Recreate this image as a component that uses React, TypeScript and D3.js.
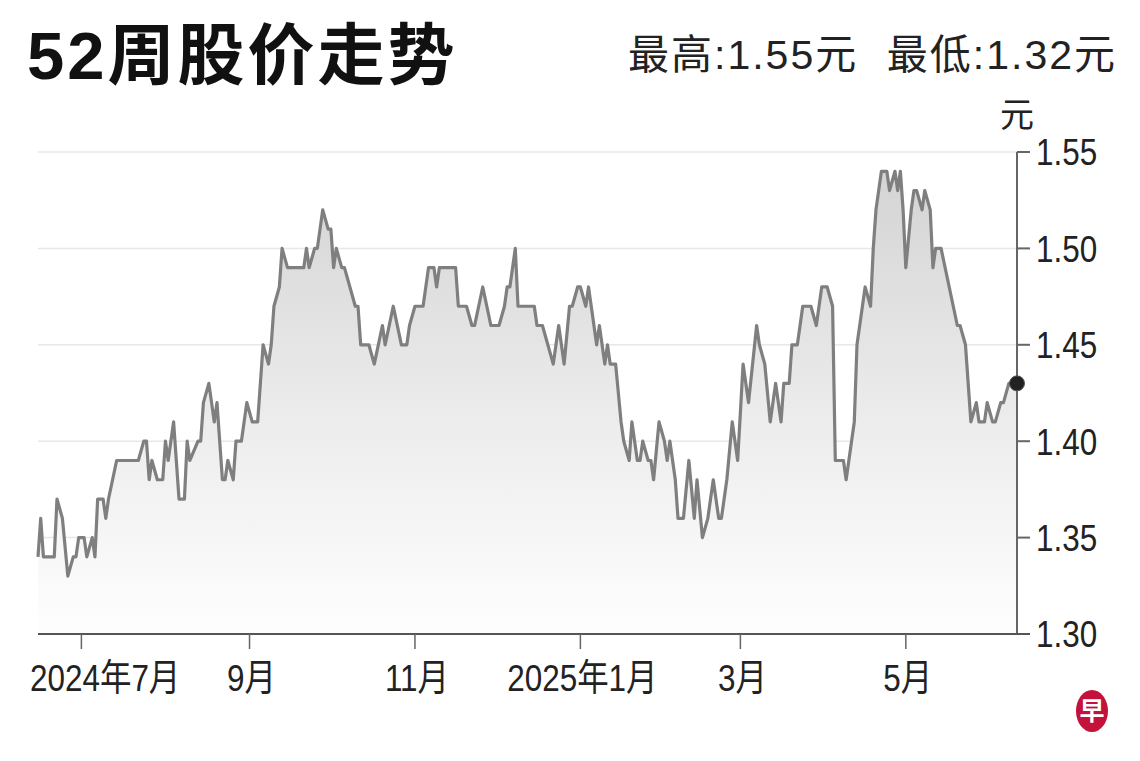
import React, {useMemo} from 'react';
import * as d3 from 'd3';

// daily closes (vertices of the line)
const dates = [
  '2024-06-15', '2024-06-16', '2024-06-17', '2024-06-21', '2024-06-22', '2024-06-24', '2024-06-26', '2024-06-28', '2024-06-29', '2024-06-30',
  '2024-07-02', '2024-07-03', '2024-07-05', '2024-07-06', '2024-07-07', '2024-07-09', '2024-07-10', '2024-07-11', '2024-07-14', '2024-07-22',
  '2024-07-24', '2024-07-25', '2024-07-26', '2024-07-27', '2024-07-29', '2024-07-31', '2024-08-01', '2024-08-02', '2024-08-04', '2024-08-05',
  '2024-08-06', '2024-08-08', '2024-08-09', '2024-08-10', '2024-08-13', '2024-08-14', '2024-08-15', '2024-08-17', '2024-08-18', '2024-08-19',
  '2024-08-20', '2024-08-21', '2024-08-22', '2024-08-23', '2024-08-24', '2024-08-26', '2024-08-27', '2024-08-29', '2024-08-30', '2024-08-31',
  '2024-09-02', '2024-09-04', '2024-09-05', '2024-09-06', '2024-09-08', '2024-09-09', '2024-09-10', '2024-09-12', '2024-09-13', '2024-09-15',
  '2024-09-21', '2024-09-22', '2024-09-23', '2024-09-25', '2024-09-26', '2024-09-28', '2024-09-30', '2024-10-01', '2024-10-02', '2024-10-03',
  '2024-10-05', '2024-10-06', '2024-10-10', '2024-10-11', '2024-10-12', '2024-10-15', '2024-10-17', '2024-10-20', '2024-10-21', '2024-10-24',
  '2024-10-27', '2024-10-29', '2024-10-30', '2024-11-01', '2024-11-04', '2024-11-06', '2024-11-08', '2024-11-09', '2024-11-10', '2024-11-16',
  '2024-11-17', '2024-11-20', '2024-11-22', '2024-11-23', '2024-11-26', '2024-11-29', '2024-12-02', '2024-12-04', '2024-12-05', '2024-12-06',
  '2024-12-08', '2024-12-09', '2024-12-15', '2024-12-16', '2024-12-18', '2024-12-22', '2024-12-24', '2024-12-26', '2024-12-28', '2024-12-29',
  '2024-12-31', '2025-01-01', '2025-01-03', '2025-01-04', '2025-01-06', '2025-01-07', '2025-01-08', '2025-01-10', '2025-01-11', '2025-01-12',
  '2025-01-14', '2025-01-16', '2025-01-17', '2025-01-19', '2025-01-20', '2025-01-22', '2025-01-23', '2025-01-24', '2025-01-26', '2025-01-27',
  '2025-01-28', '2025-01-30', '2025-02-01', '2025-02-02', '2025-02-03', '2025-02-05', '2025-02-06', '2025-02-08', '2025-02-10', '2025-02-12',
  '2025-02-13', '2025-02-15', '2025-02-17', '2025-02-19', '2025-02-21', '2025-02-22', '2025-02-24', '2025-02-26', '2025-02-28', '2025-03-02',
  '2025-03-04', '2025-03-07', '2025-03-08', '2025-03-10', '2025-03-12', '2025-03-13', '2025-03-14', '2025-03-16', '2025-03-17', '2025-03-19',
  '2025-03-20', '2025-03-22', '2025-03-24', '2025-03-27', '2025-03-29', '2025-03-30', '2025-03-31', '2025-04-02', '2025-04-04', '2025-04-05',
  '2025-04-08', '2025-04-09', '2025-04-12', '2025-04-13', '2025-04-15', '2025-04-16', '2025-04-18', '2025-04-19', '2025-04-20', '2025-04-22',
  '2025-04-24', '2025-04-25', '2025-04-27', '2025-04-28', '2025-04-29', '2025-04-30', '2025-05-01', '2025-05-03', '2025-05-04', '2025-05-05',
  '2025-05-07', '2025-05-08', '2025-05-10', '2025-05-11', '2025-05-12', '2025-05-14', '2025-05-17', '2025-05-20', '2025-05-21', '2025-05-23',
  '2025-05-25', '2025-05-27', '2025-05-28', '2025-05-30', '2025-05-31', '2025-06-02', '2025-06-03', '2025-06-05', '2025-06-06', '2025-06-08',
  '2025-06-11',
];

const prices = [
  1.34, 1.36, 1.34, 1.34, 1.37, 1.36, 1.33, 1.34, 1.34, 1.35,
  1.35, 1.34, 1.35, 1.34, 1.37, 1.37, 1.36, 1.37, 1.39, 1.39,
  1.40, 1.40, 1.38, 1.39, 1.38, 1.38, 1.40, 1.39, 1.41, 1.39,
  1.37, 1.37, 1.40, 1.39, 1.40, 1.40, 1.42, 1.43, 1.42, 1.41,
  1.42, 1.40, 1.38, 1.38, 1.39, 1.38, 1.40, 1.40, 1.41, 1.42,
  1.41, 1.41, 1.43, 1.45, 1.44, 1.45, 1.47, 1.48, 1.50, 1.49,
  1.49, 1.50, 1.49, 1.50, 1.50, 1.52, 1.51, 1.51, 1.49, 1.50,
  1.49, 1.49, 1.47, 1.47, 1.45, 1.45, 1.44, 1.46, 1.45, 1.47,
  1.45, 1.45, 1.46, 1.47, 1.47, 1.49, 1.49, 1.48, 1.49, 1.49,
  1.47, 1.47, 1.46, 1.46, 1.48, 1.46, 1.46, 1.47, 1.48, 1.48,
  1.50, 1.47, 1.47, 1.46, 1.46, 1.44, 1.46, 1.44, 1.47, 1.47,
  1.48, 1.48, 1.47, 1.48, 1.46, 1.45, 1.46, 1.44, 1.45, 1.44,
  1.44, 1.41, 1.40, 1.39, 1.41, 1.39, 1.39, 1.40, 1.39, 1.39,
  1.38, 1.41, 1.40, 1.39, 1.40, 1.38, 1.36, 1.36, 1.39, 1.36,
  1.38, 1.35, 1.36, 1.38, 1.36, 1.36, 1.38, 1.41, 1.39, 1.44,
  1.42, 1.46, 1.45, 1.44, 1.41, 1.42, 1.43, 1.41, 1.43, 1.43,
  1.45, 1.45, 1.47, 1.47, 1.46, 1.47, 1.48, 1.48, 1.47, 1.39,
  1.39, 1.38, 1.41, 1.45, 1.47, 1.48, 1.47, 1.50, 1.52, 1.54,
  1.54, 1.53, 1.54, 1.53, 1.54, 1.52, 1.49, 1.52, 1.53, 1.53,
  1.52, 1.53, 1.52, 1.49, 1.50, 1.50, 1.48, 1.46, 1.46, 1.45,
  1.41, 1.42, 1.41, 1.41, 1.42, 1.41, 1.41, 1.42, 1.42, 1.43,
  1.43,
];

const yTicks = [1.30, 1.35, 1.40, 1.45, 1.50, 1.55];
const xTickDates = ['2024-07-01', '2024-09-01', '2024-11-01', '2025-01-01', '2025-03-01', '2025-05-01'];
const xTickLabels = ['2024年7月', '9月', '11月', '2025年1月', '3月', '5月'];

const title = '52周股价走势';
const highText = '最高:1.55元';
const lowText = '最低:1.32元';
const unitText = '元';

const WIDTH = 1140;
const HEIGHT = 761;
const margin = {left: 38, right: 123, top: 152, bottom: 127};

const font = "'Liberation Sans', Arial, 'Noto Sans CJK SC', sans-serif";
const squeeze = 0.85; // the source uses a condensed face for axis labels

const parse = d3.timeParse('%Y-%m-%d');

const App: React.FC = () => {
  const x0 = margin.left;
  const x1 = WIDTH - margin.right;
  const y0 = HEIGHT - margin.bottom;
  const y1 = margin.top;

  const data = useMemo(() => dates.map((d, i) => ({date: parse(d) as Date, value: prices[i]})), []);

  const xScale = useMemo(() => d3.scaleTime()
      .domain(d3.extent(data, d => d.date) as [Date, Date])
      .range([x0, x1]), [data]);

  const yScale = useMemo(() => d3.scaleLinear()
      .domain([1.30, 1.55])
      .range([y0, y1]), []);

  const line = d3.line<{date: Date, value: number}>()
      .x(d => xScale(d.date))
      .y(d => yScale(d.value));

  const area = d3.area<{date: Date, value: number}>()
      .x(d => xScale(d.date))
      .y0(y0)
      .y1(d => yScale(d.value));

  const last = data[data.length - 1];

  return (
      <div style={{position: 'absolute', left: 0, top: 0, background: '#fff'}}>
        <svg width={WIDTH} height={HEIGHT} style={{display: 'block'}}>
          <defs>
            <linearGradient id="areaFill" gradientUnits="userSpaceOnUse" x1={0} y1={y1} x2={0} y2={y0}>
              <stop offset="0%" stopColor="#d2d2d2"/>
              <stop offset="55%" stopColor="#ececec"/>
              <stop offset="100%" stopColor="#fefefe"/>
            </linearGradient>
          </defs>
          <rect width={WIDTH} height={HEIGHT} fill="#fff"/>

          {/* header */}
          <text x={27} y={79} fontFamily={font} fontWeight="bold" fontSize={67} letterSpacing={3} fill="#111">{title}</text>
          <text x={628} y={69} fontFamily={font} fontSize={41} letterSpacing={2} fill="#222">{highText}</text>
          <text x={1117} y={69} fontFamily={font} fontSize={41} letterSpacing={2} fill="#222" textAnchor="end">{lowText}</text>

          {/* grid */}
          {yTicks.slice(1).map(t => (
              <line key={t} x1={x0} x2={x1} y1={yScale(t)} y2={yScale(t)} stroke="#e8e8e8" strokeWidth={1.5}/>
          ))}

          <path d={area(data) || ''} fill="url(#areaFill)"/>
          <path d={line(data) || ''} fill="none" stroke="#7f7f7f" strokeWidth={3.2} strokeLinejoin="round"/>

          {/* y axis */}
          <line x1={x1} x2={x1} y1={y1} y2={y0} stroke="#666" strokeWidth={2}/>
          {yTicks.map(t => (
              <g key={t} transform={`translate(${x1}, ${yScale(t)})`}>
                <line x1={0} x2={13} stroke="#666" strokeWidth={2}/>
                <text transform={`translate(19, 0) scale(${squeeze}, 1)`} dy="0.36em"
                      fontFamily={font} fontSize={37} fill="#222">{t.toFixed(2)}</text>
              </g>
          ))}
          <text x={x1} y={127} fontFamily={font} fontSize={34} fill="#222" textAnchor="middle">{unitText}</text>

          {/* x axis */}
          <line x1={x0} x2={x1 + 13} y1={y0} y2={y0} stroke="#555" strokeWidth={2}/>
          {xTickDates.map((d, i) => {
            const tx = xScale(parse(d) as Date);
            const lx = i === 0 ? x0 - 8 : tx + 2;
            return (
                <g key={d}>
                  <line x1={tx} x2={tx} y1={y0} y2={y0 + 15} stroke="#666" strokeWidth={1.5}/>
                  <text transform={`translate(${lx}, ${y0 + 57}) scale(${squeeze}, 1)`}
                        textAnchor={i === 0 ? 'start' : 'middle'}
                        fontFamily={font} fontSize={37} fill="#222">{xTickLabels[i]}</text>
                </g>
            );
          })}

          {/* last close */}
          <circle cx={xScale(last.date)} cy={yScale(last.value)} r={7.5} fill="#222" stroke="#555" strokeWidth={1}/>

          {/* logo */}
          <ellipse cx={1092} cy={711} rx={16} ry={21} fill="#c4123a"/>
          <text x={1092} y={711} dy="0.36em" textAnchor="middle" fontFamily="'Noto Sans CJK SC', sans-serif"
                fontWeight="bold" fontSize={25} fill="#fff">早</text>
        </svg>
      </div>
  );
};

export default App;
